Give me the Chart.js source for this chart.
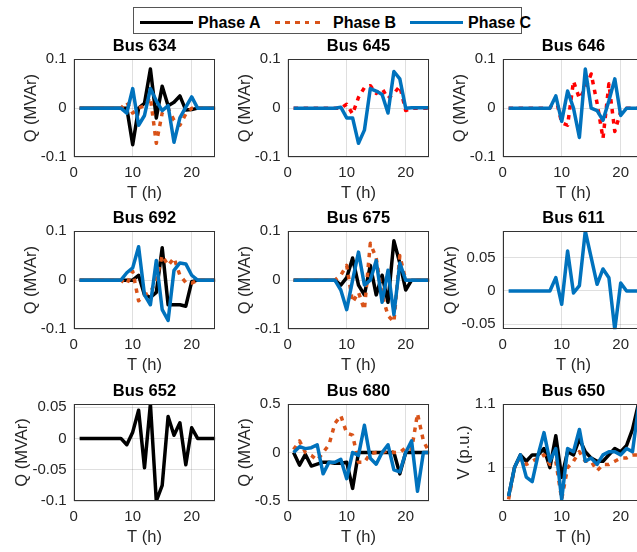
<!DOCTYPE html>
<html>
<head>
<meta charset="utf-8">
<title>Bus Q and V by phase</title>
<script src="https://cdn.jsdelivr.net/npm/chart.js@4.4.1/dist/chart.umd.min.js"></script>
<style>
  html, body { margin: 0; padding: 0; background: #fff; }
  body { width: 637px; height: 552px; position: relative; overflow: hidden;
         font-family: 'Liberation Sans', Arial, Helvetica, sans-serif; }
  canvas { position: absolute; }
  .legend { position: absolute; left: 133px; top: 7px; width: 387px; height: 25px;
            border: 1px solid #555; background: #fff; }
  .legend .item { position: absolute; top: 5px; height: 20px; line-height: 20px;
                  font-size: 16px; font-weight: bold; color: #000; white-space: nowrap; }
  .legend .swatch { position: absolute; top: 13px; height: 3px; }
</style>
</head>
<body>
<div class="legend" id="legend"></div>
<script>
// hours of the day (x axis)
const hours = [1, 2, 3, 4, 5, 6, 7, 8, 9, 10, 11, 12, 13, 14, 15, 16, 17, 18, 19, 20, 21, 22, 23, 24];
const xTicks = [0, 10, 20];
const xTickLabels = ['0', '10', '20'];

// y ticks
const qTicks = [-0.1, 0, 0.1];
const qTickLabels = ['-0.1', '0', '0.1'];
const q611Ticks = [-0.05, 0, 0.05];
const q611TickLabels = ['-0.05', '0', '0.05'];
const q652Ticks = [-0.1, -0.05, 0, 0.05];
const q652TickLabels = ['-0.1', '-0.05', '0', '0.05'];
const q680Ticks = [-0.5, 0, 0.5];
const q680TickLabels = ['-0.5', '0', '0.5'];
const vTicks = [1, 1.1];
const vTickLabels = ['1', '1.1'];

const phaseNames = ['Phase A', 'Phase B', 'Phase C'];

// reactive power (MVAr) per bus and phase
const bus634A = [0, 0, 0, 0, 0, 0, 0, 0, 0, -0.075, 0, 0.01, 0.08, -0.02, 0.045, 0.005, 0.012, 0.025, -0.004, -0.003, 0, 0, 0, 0];
const bus634B = [0, 0, 0, 0, 0, 0, 0, 0, 0.012, -0.01, 0, 0.005, 0.022, -0.072, -0.01, 0, -0.025, -0.035, -0.012, 0, 0, 0, 0, 0];
const bus634C = [0, 0, 0, 0, 0, 0, 0, 0, -0.01, 0.04, -0.035, -0.015, 0.04, 0.015, -0.005, 0.005, -0.07, -0.02, 0.002, 0.023, 0, 0, 0, 0];

const bus645B = [0, 0, 0, 0, 0, 0, 0, 0, 0, 0.008, -0.012, 0.022, 0.042, 0.046, 0.03, 0.04, 0.02, 0.03, 0.045, -0.005, 0, 0, 0, 0];
const bus645C = [0, 0, 0, 0, 0, 0, 0, 0, 0.002, -0.02, -0.02, -0.072, -0.045, 0.04, 0.035, 0.028, -0.01, 0.075, 0.06, 0, 0.001, 0.001, 0.001, 0.001];

const bus646B = [0, 0, 0, 0, 0, 0, 0, 0, 0.02, -0.03, -0.035, 0.055, 0.02, 0.04, 0.07, 0.01, -0.062, 0.05, -0.048, -0.007, 0, 0, 0, 0];
const bus646C = [0, 0, 0, 0, 0, 0, 0, 0, 0.025, -0.027, 0.035, 0, -0.06, 0.08, 0, -0.005, -0.025, 0.015, 0.06, -0.015, 0, 0, 0, 0];

const bus692A = [0, 0, 0, 0, 0, 0, 0, 0, 0, 0, 0.01, -0.03, -0.035, -0.025, 0.066, -0.05, -0.05, -0.05, -0.053, -0.003, 0, 0, 0, 0];
const bus692B = [0, 0, 0, 0, 0, 0, 0, 0, -0.008, 0.018, -0.042, -0.03, -0.025, 0, 0.05, 0.03, 0.045, 0.01, -0.005, -0.006, 0, 0, 0, 0];
const bus692C = [0, 0, 0, 0, 0, 0, 0, 0, 0.015, 0.025, 0.068, -0.03, -0.05, 0.04, -0.06, -0.082, 0.02, 0.035, 0.033, 0.01, 0, 0, 0, 0];

const bus675A = [0, 0, 0, 0, 0, 0, 0, 0, -0.01, 0.005, 0.045, -0.01, -0.03, 0.03, -0.03, 0.01, -0.045, 0.08, 0.035, -0.02, 0, 0, 0, 0];
const bus675B = [0, 0, 0, 0, 0, 0, 0, 0, 0.01, 0.03, -0.045, -0.025, -0.06, 0.075, 0.045, -0.03, -0.072, -0.085, 0.05, 0, 0, 0, 0, 0];
const bus675C = [0, 0, 0, 0, 0, 0, 0, 0, -0.02, -0.06, 0, 0.057, -0.01, 0, 0.04, -0.045, 0.02, -0.07, 0.035, 0, 0, 0, 0, 0];

const bus611C = [0, 0, 0, 0, 0, 0, 0, 0, 0.02, -0.02, 0.06, -0.003, 0.008, 0.09, 0.05, 0.01, 0.033, 0.02, -0.058, 0.012, 0, 0, 0, 0];

const bus652A = [0, 0, 0, 0, 0, 0, 0, 0, -0.01, 0.01, 0.045, -0.047, 0.055, -0.1, -0.075, 0.035, 0.005, 0.025, -0.042, 0.017, 0, 0, 0, 0];

const bus680A = [0, -0.13, -0.02, -0.14, -0.12, -0.1, -0.1, -0.11, -0.11, -0.1, -0.37, 0, 0, 0, 0, 0, 0, 0, -0.22, 0, 0, 0, 0, 0];
const bus680B = [0.03, 0.12, 0, -0.03, -0.08, 0, 0.08, 0.3, 0.38, 0.2, 0.18, -0.1, -0.1, -0.01, 0, 0, 0.02, 0, 0, 0.05, 0.03, 0.4, 0.12, 0];
const bus680C = [0, 0.06, 0.04, 0.05, 0.08, -0.22, -0.1, -0.1, -0.07, -0.27, 0, -0.03, 0.28, -0.06, -0.12, 0, 0.08, -0.18, -0.2, 0, 0.12, -0.4, 0, 0];

// voltage (p.u.) at bus 650
const bus650A = [0.955, 1.0, 1.02, 1.01, 1.02, 1.02, 1.03, 1.0, 1.05, 0.985, 1.025, 1.02, 1.045, 1.025, 1.015, 1.01, 1.01, 1.02, 1.03, 1.025, 1.035, 1.06, 1.1, 1.12];
const bus650B = [0.95, 1.0, 1.015, 1.005, 1.01, 1.015, 1.02, 1.005, 1.01, 0.95, 1.0, 1.01, 1.025, 1.01, 1.01, 0.995, 1.005, 1.005, 1.01, 1.015, 1.015, 1.02, 1.02, 1.04];
const bus650C = [0.955, 1.0, 1.02, 0.985, 0.978, 1.02, 1.055, 1.01, 1.03, 0.95, 1.03, 1.025, 1.06, 1.01, 1.015, 1.005, 1.02, 1.025, 1.025, 1.02, 1.03, 1.025, 1.095, 1.12];

// styles
const FONT = "'Liberation Sans', Arial, Helvetica, sans-serif";
const INK = '#262626';
const phaseColors = ['#000000', '#D95319', '#0072BD'];
const phaseDash = [[], [4.5, 5.5], []];
const RED = '#FF0000';

// layout of the 3x3 grid (plot area edges, px)
const colLeft = [73.7, 287.7, 502.7];
const rowTop = [59.3, 231, 404];
const plotH = [97.7, 98.3, 97];
const plotW = 141.6;
const titleMid = [46.5, 218, 391.7];
const TITLE_SIZE = 16.5, LABEL_SIZE = 16.5, TICK_SIZE = 15;
const LABEL_LH = LABEL_SIZE * 1.2;
const X_LABEL_GAP = 36;

const panels = [
  { title: 'Bus 634', row: 0, col: 0, yLabel: 'Q (MVAr)', min: -0.1, max: 0.1, ticks: qTicks, tickLabels: qTickLabels, gap: 42,
    series: [{ phase: 0, data: bus634A }, { phase: 1, data: bus634B }, { phase: 2, data: bus634C }] },
  { title: 'Bus 645', row: 0, col: 1, yLabel: 'Q (MVAr)', min: -0.1, max: 0.1, ticks: qTicks, tickLabels: qTickLabels, gap: 42,
    series: [{ phase: 1, data: bus645B, color: RED }, { phase: 2, data: bus645C }] },
  { title: 'Bus 646', row: 0, col: 2, yLabel: 'Q (MVAr)', min: -0.1, max: 0.1, ticks: qTicks, tickLabels: qTickLabels, gap: 42,
    series: [{ phase: 1, data: bus646B, color: RED }, { phase: 2, data: bus646C }] },
  { title: 'Bus 692', row: 1, col: 0, yLabel: 'Q (MVAr)', min: -0.1, max: 0.1, ticks: qTicks, tickLabels: qTickLabels, gap: 42,
    series: [{ phase: 0, data: bus692A }, { phase: 1, data: bus692B }, { phase: 2, data: bus692C }] },
  { title: 'Bus 675', row: 1, col: 1, yLabel: 'Q (MVAr)', min: -0.1, max: 0.1, ticks: qTicks, tickLabels: qTickLabels, gap: 42,
    series: [{ phase: 0, data: bus675A }, { phase: 1, data: bus675B }, { phase: 2, data: bus675C }] },
  { title: 'Bus 611', row: 1, col: 2, yLabel: 'Q (MVAr)', min: -0.0575, max: 0.09, ticks: q611Ticks, tickLabels: q611TickLabels, gap: 51,
    series: [{ phase: 2, data: bus611C }] },
  { title: 'Bus 652', row: 2, col: 0, yLabel: 'Q (MVAr)', min: -0.1, max: 0.055, ticks: q652Ticks, tickLabels: q652TickLabels, gap: 51,
    series: [{ phase: 0, data: bus652A }] },
  { title: 'Bus 680', row: 2, col: 1, yLabel: 'Q (MVAr)', min: -0.5, max: 0.5, ticks: q680Ticks, tickLabels: q680TickLabels, gap: 42,
    series: [{ phase: 0, data: bus680A }, { phase: 1, data: bus680B }, { phase: 2, data: bus680C }] },
  { title: 'Bus 650', row: 2, col: 2, yLabel: 'V (p.u.)', min: 0.9475, max: 1.1, ticks: vTicks, tickLabels: vTickLabels, gap: 38,
    series: [{ phase: 0, data: bus650A }, { phase: 1, data: bus650B }, { phase: 2, data: bus650C }] }
];

// box around the plot area, like matlab's "box on"
const axesBox = {
  id: 'axesBox',
  afterDatasetsDraw(chart) {
    const a = chart.chartArea;
    const ctx = chart.ctx;
    ctx.save();
    ctx.strokeStyle = '#333';
    ctx.lineWidth = 1;
    ctx.strokeRect(Math.round(a.left) + 0.5, Math.round(a.top) + 0.5,
                   Math.round(a.right) - Math.round(a.left) - 1, Math.round(a.bottom) - Math.round(a.top) - 1);
    ctx.restore();
  }
};

// title centred over the plot area (the built-in one centres over the whole canvas)
const panelTitle = {
  id: 'panelTitle',
  afterDraw(chart, args, opts) {
    const a = chart.chartArea;
    const ctx = chart.ctx;
    ctx.save();
    ctx.font = 'bold ' + TITLE_SIZE + 'px ' + FONT;
    ctx.fillStyle = '#000';
    ctx.textAlign = 'center';
    ctx.textBaseline = 'middle';
    ctx.fillText(opts.text, (a.left + a.right) / 2, opts.y);
    ctx.restore();
  }
};

function makePanel(p) {
  const plotLeft = colLeft[p.col];
  const plotTop = rowTop[p.row];
  const h = plotH[p.row];
  const left = Math.round(plotLeft - p.gap - LABEL_LH / 2);
  const yw = plotLeft - left;
  const top = Math.round(titleMid[p.row] - 12);
  const xh = X_LABEL_GAP + LABEL_LH / 2;
  const width = Math.ceil(yw + plotW);
  const height = Math.ceil(plotTop - top + h + xh);

  const canvas = document.createElement('canvas');
  canvas.width = width;
  canvas.height = height;
  canvas.style.left = left + 'px';
  canvas.style.top = top + 'px';
  canvas.style.width = width + 'px';
  canvas.style.height = height + 'px';
  document.body.appendChild(canvas);

  const datasets = p.series.map(s => ({
    label: phaseNames[s.phase],
    data: hours.map((x, i) => ({ x: x, y: s.data[i] })),
    borderColor: s.color || phaseColors[s.phase],
    borderWidth: 3.5,
    borderDash: phaseDash[s.phase],
    borderCapStyle: 'butt',
    borderJoinStyle: 'round',
    pointRadius: 0,
    tension: 0,
    fill: false,
    order: 3 - s.phase
  }));

  const tickFont = { family: FONT, size: TICK_SIZE };
  const labelFont = { family: FONT, size: LABEL_SIZE };

  new Chart(canvas.getContext('2d'), {
    type: 'line',
    data: { datasets: datasets },
    options: {
      responsive: false,
      animation: false,
      devicePixelRatio: 1,
      layout: { padding: { left: 0, top: plotTop - top, right: width - yw - plotW, bottom: height - (plotTop - top + h + xh) } },
      plugins: {
        legend: { display: false },
        tooltip: { enabled: false },
        title: { display: false },
        panelTitle: { text: p.title, y: titleMid[p.row] - top }
      },
      scales: {
        x: {
          type: 'linear',
          min: 0,
          max: 24,
          afterBuildTicks: s => { s.ticks = xTicks.map(v => ({ value: v })); },
          afterFit: s => { s.height = xh; },
          ticks: { font: tickFont, color: INK, padding: 7, maxRotation: 0, autoSkip: false,
                   callback: (v, i) => xTickLabels[i] },
          grid: { color: 'rgba(38,38,38,0.15)', drawTicks: false },
          border: { display: false },
          title: { display: true, text: 'T (h)', font: labelFont, color: INK, padding: 0 }
        },
        y: {
          type: 'linear',
          min: p.min,
          max: p.max,
          afterBuildTicks: s => { s.ticks = p.ticks.map(v => ({ value: v })); },
          afterFit: s => { s.width = yw; },
          ticks: { font: tickFont, color: INK, padding: 7, autoSkip: false,
                   callback: (v, i) => p.tickLabels[i] },
          grid: { color: 'rgba(38,38,38,0.15)', drawTicks: false },
          border: { display: false },
          title: { display: true, text: p.yLabel, font: labelFont, color: INK, padding: 0 }
        }
      }
    },
    plugins: [axesBox, panelTitle]
  });
}

// shared legend on top
function buildLegend() {
  const legend = document.getElementById('legend');
  const swatchLeft = [6, 141, 276];
  const swatchWidth = [53, 48, 53];
  const textLeft = [64, 199, 334];
  phaseNames.forEach((name, i) => {
    const sw = document.createElement('div');
    sw.className = 'swatch';
    sw.style.left = swatchLeft[i] + 'px';
    sw.style.width = swatchWidth[i] + 'px';
    if (phaseDash[i].length) {
      sw.style.background = 'repeating-linear-gradient(90deg, ' + phaseColors[i] + ' 0 4.5px, transparent 4.5px 10px)';
    } else {
      sw.style.background = phaseColors[i];
    }
    legend.appendChild(sw);
    const txt = document.createElement('div');
    txt.className = 'item';
    txt.style.left = textLeft[i] + 'px';
    txt.textContent = name;
    legend.appendChild(txt);
  });
}

buildLegend();
panels.forEach(makePanel);
</script>
</body>
</html>
